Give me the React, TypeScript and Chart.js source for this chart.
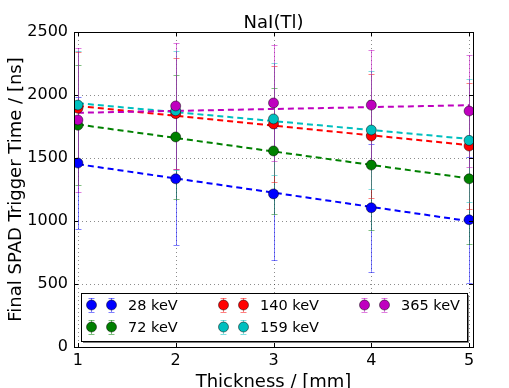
import React, { useEffect, useRef } from "react";
import { Chart, registerables } from "chart.js";

Chart.register(...registerables);

const thickness = [1, 2, 3, 4, 5];
const xTicks = [1, 2, 3, 4, 5];
const yTicks = [0, 500, 1000, 1500, 2000, 2500];
const labels = ["28 keV", "72 keV", "140 keV", "159 keV", "365 keV"];
const colors = ["#0000ff", "#008000", "#ff0000", "#00bfbf", "#bf00bf"];
const errColors = [
  "rgba(0,0,255,0.5)",
  "rgba(0,128,0,0.5)",
  "rgba(255,0,0,0.5)",
  "rgba(0,191,191,0.5)",
  "rgba(191,0,191,0.5)",
];

const t28 = [1460, 1335, 1215, 1105, 1010];
const t72 = [1760, 1667, 1556, 1444, 1335];
const t140 = [1895, 1852, 1770, 1675, 1595];
const t159 = [1920, 1875, 1810, 1722, 1640];
const t365 = [1802, 1913, 1937, 1920, 1873];

const e28 = [523, 523, 524, 508, 500];
const e72 = [475, 492, 501, 516, 516];
const e140 = [445, 442, 460, 490, 500];
const e159 = [430, 474, 444, 468, 487];
const e365 = [570, 500, 460, 437, 444];

// fit line values at thickness 1 and 5
const fitX = [1, 5];
const fit28 = [1451, 999];
const fit72 = [1766, 1338];
const fit140 = [1913, 1602];
const fit159 = [1935, 1651];
const fit365 = [1859, 1919];

const series = [t28, t72, t140, t159, t365];
const errors = [e28, e72, e140, e159, e365];
const fits = [fit28, fit72, fit140, fit159, fit365];

const FONT = "'DejaVu Sans', sans-serif";

const overlay = {
  id: "overlay",
  beforeDatasetsDraw(chart: any) {
    const ctx = chart.ctx;
    const xs = chart.scales.x;
    const ys = chart.scales.y;
    const ca = chart.chartArea;
    ctx.save();
    // grid
    ctx.strokeStyle = "rgba(0,0,0,0.45)";
    ctx.lineWidth = 1;
    ctx.setLineDash([1, 3]);
    xTicks.forEach((v) => {
      const px = Math.round(xs.getPixelForValue(v)) + 0.5;
      ctx.beginPath();
      ctx.moveTo(px, ca.top);
      ctx.lineTo(px, ca.bottom);
      ctx.stroke();
    });
    yTicks.forEach((v) => {
      const py = Math.round(ys.getPixelForValue(v)) + 0.5;
      ctx.beginPath();
      ctx.moveTo(ca.left, py);
      ctx.lineTo(ca.right, py);
      ctx.stroke();
    });
    ctx.setLineDash([]);
    // error bars
    series.forEach((vals, i) => {
      ctx.strokeStyle = errColors[i];
      ctx.lineWidth = 1;
      vals.forEach((v, j) => {
        const px = Math.round(xs.getPixelForValue(thickness[j])) + 0.5;
        const y1 = ys.getPixelForValue(v - errors[i][j]);
        const y2 = ys.getPixelForValue(v + errors[i][j]);
        ctx.beginPath();
        ctx.moveTo(px, y1);
        ctx.lineTo(px, y2);
        ctx.moveTo(px - 3, Math.round(y1) + 0.5);
        ctx.lineTo(px + 3, Math.round(y1) + 0.5);
        ctx.moveTo(px - 3, Math.round(y2) + 0.5);
        ctx.lineTo(px + 3, Math.round(y2) + 0.5);
        ctx.stroke();
      });
    });
    ctx.restore();
  },
  afterDraw(chart: any) {
    const ctx = chart.ctx;
    const xs = chart.scales.x;
    const ys = chart.scales.y;
    const ca = chart.chartArea;
    ctx.save();
    // frame
    ctx.strokeStyle = "#000";
    ctx.lineWidth = 1;
    ctx.strokeRect(ca.left + 0.5, ca.top + 0.5, ca.right - ca.left, ca.bottom - ca.top);
    // inward ticks
    ctx.beginPath();
    xTicks.forEach((v) => {
      const px = Math.round(xs.getPixelForValue(v)) + 0.5;
      ctx.moveTo(px, ca.bottom);
      ctx.lineTo(px, ca.bottom - 4);
      ctx.moveTo(px, ca.top);
      ctx.lineTo(px, ca.top + 4);
    });
    yTicks.forEach((v) => {
      const py = Math.round(ys.getPixelForValue(v)) + 0.5;
      ctx.moveTo(ca.left, py);
      ctx.lineTo(ca.left + 4, py);
      ctx.moveTo(ca.right, py);
      ctx.lineTo(ca.right - 4, py);
    });
    ctx.stroke();

    // title
    ctx.fillStyle = "#000";
    ctx.font = `18px ${FONT}`;
    ctx.textAlign = "center";
    ctx.textBaseline = "alphabetic";
    ctx.fillText("NaI(Tl)", (ca.left + ca.right) / 2, 28);
    // x label
    ctx.font = `18px ${FONT}`;
    ctx.fillText("Thickness / [mm]", (ca.left + ca.right) / 2, 387);
    // y label
    ctx.save();
    ctx.translate(21, (ca.top + ca.bottom) / 2);
    ctx.rotate(-Math.PI / 2);
    ctx.fillText("Final SPAD Trigger Time / [ns]", 0, 0);
    ctx.restore();

    // legend
    const lx = 81, ly = 293, lw = 386, lh = 48;
    ctx.fillStyle = "rgba(0,0,0,0.5)";
    ctx.fillRect(lx + 2, ly + 2, lw, lh);
    ctx.fillStyle = "#fff";
    ctx.fillRect(lx, ly, lw, lh);
    ctx.strokeStyle = "#000";
    ctx.lineWidth = 1;
    ctx.strokeRect(lx + 0.5, ly + 0.5, lw, lh);
    const cols = [91, 223, 364];
    const rows = [305, 327];
    labels.forEach((lab, i) => {
      const c = Math.floor(i / 2);
      const r = i % 2;
      const mx = cols[c];
      const my = rows[r];
      [mx, mx + 20].forEach((x) => {
        ctx.strokeStyle = errColors[i];
        ctx.beginPath();
        ctx.moveTo(x + 0.5, my - 7);
        ctx.lineTo(x + 0.5, my + 7);
        ctx.moveTo(x - 2.5, my - 7 + 0.5);
        ctx.lineTo(x + 3.5, my - 7 + 0.5);
        ctx.moveTo(x - 2.5, my + 7 + 0.5);
        ctx.lineTo(x + 3.5, my + 7 + 0.5);
        ctx.stroke();
        ctx.fillStyle = colors[i];
        ctx.strokeStyle = "rgba(0,0,0,0.6)";
        ctx.lineWidth = 0.8;
        ctx.beginPath();
        ctx.arc(x + 0.5, my, 5, 0, Math.PI * 2);
        ctx.fill();
        ctx.stroke();
        ctx.lineWidth = 1;
      });
      ctx.fillStyle = "#000";
      ctx.font = `14.5px ${FONT}`;
      ctx.textAlign = "left";
      ctx.textBaseline = "middle";
      ctx.fillText(lab, mx + 37, my + 1);
    });
    ctx.restore();
  },
};

export default function App() {
  const ref = useRef<HTMLCanvasElement>(null);
  useEffect(() => {
    if (!ref.current) return;
    const datasets: any[] = [];
    series.forEach((vals, i) => {
      datasets.push({
        type: "scatter",
        label: labels[i],
        data: vals.map((v, j) => ({ x: thickness[j], y: v })),
        backgroundColor: colors[i],
        borderColor: "rgba(0,0,0,0.6)",
        borderWidth: 0.8,
        pointRadius: 5,
        pointHoverRadius: 5,
        showLine: false,
        order: 4 - i,
      });
    });
    fits.forEach((f, i) => {
      datasets.push({
        type: "line",
        label: labels[i] + " fit",
        data: fitX.map((x, j) => ({ x, y: f[j] })),
        borderColor: colors[i],
        borderDash: [6, 4],
        borderWidth: 2,
        pointRadius: 0,
        showLine: true,
        fill: false,
        order: 20 - i,
      });
    });
    const chart = new Chart(ref.current, {
      type: "scatter",
      data: { datasets },
      options: {
        responsive: false,
        animation: false,
        devicePixelRatio: 1,
        layout: { padding: { left: 0, top: 32, right: 36, bottom: 0 } },
        plugins: { legend: { display: false }, tooltip: { enabled: false }, title: { display: false } },
        scales: {
          x: {
            type: "linear",
            min: 0.96,
            max: 5.04,
            grid: { display: false, drawTicks: false },
            border: { display: false },
            afterBuildTicks: (s: any) => {
              s.ticks = xTicks.map((v) => ({ value: v }));
            },
            afterFit: (s: any) => {
              s.height = 41;
            },
            ticks: {
              color: "#000",
              font: { family: FONT, size: 16 },
              padding: 4,
              maxRotation: 0,
              autoSkip: false,
              callback: (v: any) => String(v),
            },
          },
          y: {
            type: "linear",
            min: 0,
            max: 2500,
            grid: { display: false, drawTicks: false },
            border: { display: false },
            afterBuildTicks: (s: any) => {
              s.ticks = yTicks.map((v) => ({ value: v }));
            },
            afterFit: (s: any) => {
              s.width = 74;
            },
            ticks: {
              color: "#000",
              font: { family: FONT, size: 16 },
              padding: 6,
              callback: (v: any) => String(v),
            },
          },
        },
      },
      plugins: [overlay],
    } as any);
    return () => chart.destroy();
  }, []);
  return (
    <div style={{ position: "fixed", left: 0, top: 0, width: 509, height: 388, background: "#fff" }}>
      <canvas ref={ref} width={509} height={388} style={{ display: "block" }} />
    </div>
  );
}
